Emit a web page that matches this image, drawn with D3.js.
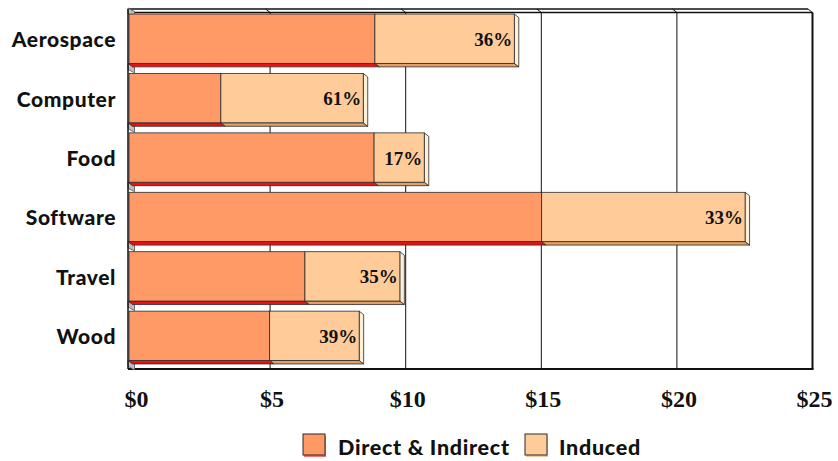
<!DOCTYPE html>
<html>
<head>
<meta charset="utf-8">
<script src="https://cdn.jsdelivr.net/npm/d3@7"></script>
<style>
  html, body { margin: 0; padding: 0; background: #fff; }
  svg { display: block; }
</style>
</head>
<body>
<svg id="chart" width="838" height="461"></svg>
<script>
// Economic impact by industry, $ billions, split into direct & indirect vs. induced
const categories = ["Aerospace", "Computer", "Food", "Software", "Travel", "Wood"];
const directIndirect = [9.03, 3.35, 9.0, 15.18, 6.45, 5.15];
const induced = [5.14, 5.25, 1.85, 7.5, 3.5, 3.3];
const xTicks = [0, 5, 10, 15, 20, 25];
const seriesNames = ["Direct & Indirect", "Induced"];

const colDirect = "#FF9966";
const colInduced = "#FFCC99";
const colDirectFloor = "#F01010";
const colInducedFloor = "#E3A064";
const colSide = "#FFF0D8";
const edge = "#2a2a2a";

const svg = d3.select("#chart");

// front plane and 3D depth offset (back plane sits right and below)
const pL = 130, pR = 808, pT = 9, pB = 365.5;
const dx = 4.5, dy = 3.5;

const x = d3.scaleLinear().domain([0, 25]).range([pL, pR]);
const y = d3.scaleBand().domain(categories).range([pT, pB])
  .paddingInner(0.17).paddingOuter(0.085);

const g = svg.append("g");

// back-wall gridlines
g.selectAll("line.grid").data(xTicks.slice(1, -1)).join("line")
  .attr("x1", d => x(d) + dx).attr("x2", d => x(d) + dx)
  .attr("y1", pT + dy).attr("y2", pB + dy)
  .attr("stroke", "#111").attr("stroke-width", 1);

// top edge: front and back rails joined by small slants
g.append("line").attr("x1", pL - 2).attr("x2", pR).attr("y1", pT).attr("y2", pT)
  .attr("stroke", "#111").attr("stroke-width", 1.3);
g.append("line").attr("x1", pL + dx).attr("x2", pR + dx).attr("y1", pT + dy).attr("y2", pT + dy)
  .attr("stroke", "#111").attr("stroke-width", 1.3);
g.selectAll("line.slant").data(xTicks).join("line")
  .attr("x1", d => x(d)).attr("x2", d => x(d) + dx)
  .attr("y1", pT).attr("y2", pT + dy)
  .attr("stroke", "#111").attr("stroke-width", 1);

// right and bottom frame of the back wall
g.append("line").attr("x1", pR + dx).attr("x2", pR + dx).attr("y1", pT + dy).attr("y2", pB + dy)
  .attr("stroke", "#111").attr("stroke-width", 2);
g.append("line").attr("x1", pL - 2).attr("x2", pR + dx + 1).attr("y1", pB + dy).attr("y2", pB + dy)
  .attr("stroke", "#111").attr("stroke-width", 2);

// left wall slivers visible between bars
const gapTops = [pT - 1].concat(categories.map(c => y(c) + y.bandwidth()));
g.selectAll("path.wall").data(gapTops).join("path")
  .attr("d", b => `M${pL - 2},${b} L${pL + dx},${b + dy} L${pL + dx},${b + dy + 6} L${pL - 2},${b + 6} Z`)
  .attr("fill", "#BDBDBD").attr("stroke", "#555").attr("stroke-width", 0.8);

// value axis line on the left
g.append("line").attr("x1", pL - 2).attr("x2", pL - 2).attr("y1", pT).attr("y2", pB + dy)
  .attr("stroke", "#111").attr("stroke-width", 1.5);

// bars
const rows = categories.map((c, i) => ({
  cat: c,
  a: directIndirect[i],
  b: induced[i],
  total: directIndirect[i] + induced[i]
}));

const bar = g.selectAll("g.bar").data(rows).join("g").attr("class", "bar");

function floorPath(x0, x1, yb) {
  return `M${x0},${yb} L${x1},${yb} L${x1 + dx},${yb + dy} L${x0 + dx},${yb + dy} Z`;
}

// floor faces (under each segment)
bar.append("path")
  .attr("d", d => floorPath(x(0) - 2, x(d.a), y(d.cat) + y.bandwidth()))
  .attr("fill", colDirectFloor).attr("stroke", edge).attr("stroke-width", 0.8);
bar.append("path")
  .attr("d", d => floorPath(x(d.a), x(d.total), y(d.cat) + y.bandwidth()))
  .attr("fill", colInducedFloor).attr("stroke", edge).attr("stroke-width", 0.8);

// end face at the right of the stack
bar.append("path")
  .attr("d", d => {
    const xe = x(d.total), y0 = y(d.cat), y1 = y0 + y.bandwidth();
    return `M${xe},${y0} L${xe + dx},${y0 + dy} L${xe + dx},${y1 + dy} L${xe},${y1} Z`;
  })
  .attr("fill", colSide).attr("stroke", edge).attr("stroke-width", 0.8);

// front faces
bar.append("rect")
  .attr("x", x(0) - 1).attr("y", d => y(d.cat))
  .attr("width", d => x(d.a) - x(0) + 1).attr("height", y.bandwidth())
  .attr("fill", colDirect).attr("stroke", edge).attr("stroke-width", 0.8);
bar.append("rect")
  .attr("x", d => x(d.a)).attr("y", d => y(d.cat))
  .attr("width", d => x(d.total) - x(d.a)).attr("height", y.bandwidth())
  .attr("fill", colInduced).attr("stroke", edge).attr("stroke-width", 0.8);

// induced share labels
bar.append("text")
  .attr("x", d => x(d.total) - 2)
  .attr("y", d => y(d.cat) + y.bandwidth() / 2 + 7)
  .attr("text-anchor", "end")
  .attr("font-family", "'Liberation Serif', 'DejaVu Serif', serif")
  .attr("font-weight", "bold").attr("font-size", 19).attr("fill", "#111")
  .text(d => Math.round(d.b / d.total * 100) + "%");

// category labels
g.selectAll("text.cat").data(categories).join("text")
  .attr("x", 116)
  .attr("y", c => y(c) + y.bandwidth() / 2 + 8.5)
  .attr("text-anchor", "end")
  .attr("font-family", "Lato, 'Open Sans', sans-serif")
  .attr("font-weight", 900).attr("font-size", 21).attr("letter-spacing", 0.6)
  .attr("fill", "#111")
  .text(c => c);

// value axis tick labels
const fmt = d => "$" + d3.format("d")(d);
g.selectAll("text.tick").data(xTicks).join("text")
  .attr("x", d => x(d) + dx + 2)
  .attr("y", 407)
  .attr("text-anchor", "middle")
  .attr("font-family", "'Liberation Serif', 'DejaVu Serif', serif")
  .attr("font-weight", "bold").attr("font-size", 24).attr("fill", "#111")
  .text(fmt);

// legend
const legend = svg.append("g");
const legendItems = [
  { name: seriesNames[0], color: colDirect, shadow: colDirectFloor, x: 303, tx: 338 },
  { name: seriesNames[1], color: colInduced, shadow: colInducedFloor, x: 525, tx: 559 }
];
const li = legend.selectAll("g").data(legendItems).join("g");
li.append("rect")
  .attr("x", d => d.x + 1).attr("y", 436).attr("width", 22).attr("height", 21)
  .attr("fill", d => d.shadow).attr("opacity", 0.6);
li.append("rect")
  .attr("x", d => d.x).attr("y", 434).attr("width", 22).attr("height", 21)
  .attr("fill", d => d.color).attr("stroke", edge).attr("stroke-width", 1);
li.append("text")
  .attr("x", d => d.tx).attr("y", 455)
  .attr("font-family", "Lato, 'Open Sans', sans-serif")
  .attr("font-weight", 900).attr("font-size", 21.5).attr("letter-spacing", 0.7)
  .attr("fill", "#111")
  .text(d => d.name);
</script>
</body>
</html>
